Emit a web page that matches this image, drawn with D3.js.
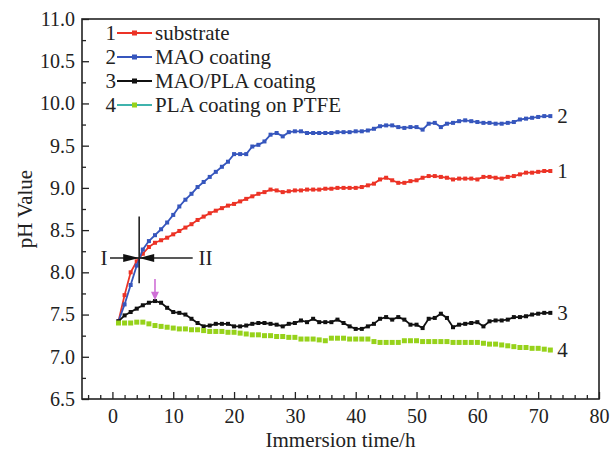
<!DOCTYPE html>
<html>
<head>
<meta charset="utf-8">
<script src="https://cdn.jsdelivr.net/npm/d3@7"></script>
<style>
  body { margin: 0; background: #fff; }
  svg { display: block; }
  text { font-family: "Liberation Serif", "Times New Roman", serif; fill: #222; }
</style>
</head>
<body>
<div id="chart"></div>
<script>
// immersion time (h)
const hours = [
  1, 2, 3, 4, 5, 6, 7, 8, 9, 10, 11, 12, 13, 14, 15, 16, 17, 18, 19, 20,
  21, 22, 23, 24, 25, 26, 27, 28, 29, 30, 31, 32, 33, 34, 35, 36, 37, 38, 39, 40,
  41, 42, 43, 44, 45, 46, 47, 48, 49, 50, 51, 52, 53, 54, 55, 56, 57, 58, 59, 60,
  61, 62, 63, 64, 65, 66, 67, 68, 69, 70, 71, 72
];

// pH values
const substrate = [
  7.42, 7.73, 8.00, 8.13, 8.22, 8.30, 8.35, 8.38, 8.41, 8.45,
  8.49, 8.53, 8.57, 8.62, 8.66, 8.70, 8.73, 8.76, 8.79, 8.81,
  8.84, 8.87, 8.90, 8.93, 8.95, 8.98, 8.97, 8.95, 8.96, 8.97,
  8.97, 8.98, 8.98, 8.98, 8.99, 8.99, 9.00, 9.00, 9.00, 9.00,
  9.01, 9.03, 9.05, 9.10, 9.12, 9.09, 9.06, 9.06, 9.08, 9.09,
  9.12, 9.14, 9.14, 9.13, 9.12, 9.10, 9.11, 9.11, 9.11, 9.10,
  9.13, 9.13, 9.12, 9.11, 9.13, 9.14, 9.16, 9.18, 9.18, 9.19,
  9.20, 9.20
];
const maoCoating = [
  7.42, 7.62, 7.85, 8.08, 8.27, 8.37, 8.44, 8.51, 8.59, 8.68,
  8.78, 8.86, 8.93, 9.01, 9.07, 9.13, 9.19, 9.25, 9.31, 9.40,
  9.40, 9.40, 9.49, 9.51, 9.55, 9.63, 9.65, 9.61, 9.66, 9.67,
  9.67, 9.65, 9.65, 9.65, 9.65, 9.65, 9.66, 9.66, 9.66, 9.67,
  9.67, 9.68, 9.70, 9.73, 9.74, 9.74, 9.72, 9.71, 9.72, 9.72,
  9.69, 9.76, 9.77, 9.72, 9.76, 9.77, 9.79, 9.80, 9.79, 9.78,
  9.77, 9.77, 9.76, 9.76, 9.77, 9.78, 9.81, 9.82, 9.83, 9.84,
  9.85, 9.85
];
const maoPlaCoating = [
  7.42, 7.49, 7.53, 7.57, 7.61, 7.64, 7.66, 7.64, 7.58, 7.53,
  7.52, 7.50, 7.45, 7.40, 7.36, 7.37, 7.39, 7.39, 7.39, 7.36,
  7.36, 7.37, 7.39, 7.40, 7.40, 7.39, 7.38, 7.36, 7.39, 7.40,
  7.43, 7.41, 7.45, 7.41, 7.41, 7.41, 7.44, 7.40, 7.36, 7.33,
  7.33, 7.36, 7.39, 7.45, 7.47, 7.44, 7.47, 7.44, 7.38, 7.38,
  7.34, 7.45, 7.46, 7.51, 7.46, 7.35, 7.38, 7.39, 7.40, 7.41,
  7.36, 7.42, 7.43, 7.43, 7.44, 7.47, 7.47, 7.48, 7.50, 7.51,
  7.52, 7.52
];
const plaOnPtfe = [
  7.40, 7.40, 7.40, 7.41, 7.41, 7.39, 7.37, 7.36, 7.35, 7.34,
  7.33, 7.33, 7.32, 7.32, 7.31, 7.30, 7.30, 7.30, 7.29, 7.29,
  7.28, 7.27, 7.26, 7.26, 7.25, 7.25, 7.24, 7.24, 7.23, 7.23,
  7.21, 7.21, 7.21, 7.20, 7.19, 7.22, 7.22, 7.22, 7.21, 7.21,
  7.21, 7.21, 7.18, 7.17, 7.17, 7.17, 7.17, 7.19, 7.19, 7.19,
  7.18, 7.18, 7.18, 7.18, 7.18, 7.17, 7.17, 7.17, 7.17, 7.17,
  7.16, 7.15, 7.15, 7.14, 7.13, 7.12, 7.11, 7.11, 7.10, 7.10,
  7.09, 7.08
];

const seriesLabels = ['1', '2', '3', '4'];
const seriesNames = ['substrate', 'MAO coating', 'MAO/PLA coating', 'PLA coating on PTFE'];
const xTickLabels = [0, 10, 20, 30, 40, 50, 60, 70, 80];
const yTickLabels = [6.5, 7.0, 7.5, 8.0, 8.5, 9.0, 9.5, 10.0, 10.5, 11.0];

const width = 611, height = 453;
const margin = { top: 19, right: 12, bottom: 54, left: 82 };

const series = [
  { values: substrate, color: '#ec3326', line: '#ec3326', size: 4, showLine: true },
  { values: maoCoating, color: '#3656bd', line: '#3656bd', size: 4, showLine: true },
  { values: maoPlaCoating, color: '#111', line: '#111', size: 4, showLine: true },
  { values: plaOnPtfe, color: '#96d21a', line: '#3fb3ad', size: 5, showLine: false }
];

const svg = d3.select('#chart').append('svg')
  .attr('width', width)
  .attr('height', height);

const x = d3.scaleLinear().domain([-5, 80]).range([margin.left, width - margin.right]);
const y = d3.scaleLinear().domain([6.5, 11]).range([height - margin.bottom, margin.top]);

// axes: ticks pointing inward, minor ticks unlabeled
const xMinor = d3.range(-4, 80, 2).filter(v => v % 10 !== 0);
const yMinor = d3.range(6.75, 11, 0.5);

svg.append('g')
  .attr('transform', `translate(0,${y(6.5)})`)
  .call(d3.axisBottom(x).tickValues(xMinor).tickSize(-4).tickFormat(''))
  .call(g => g.select('.domain').remove());
svg.append('g')
  .attr('class', 'x-axis')
  .attr('transform', `translate(0,${y(6.5)})`)
  .call(d3.axisBottom(x).tickValues(xTickLabels).tickSize(-7).tickPadding(10).tickFormat(d3.format('d')))
  .call(g => g.select('.domain').remove());

svg.append('g')
  .attr('transform', `translate(${x(-5)},0)`)
  .call(d3.axisLeft(y).tickValues(yMinor).tickSize(-4).tickFormat(''))
  .call(g => g.select('.domain').remove());
svg.append('g')
  .attr('class', 'y-axis')
  .attr('transform', `translate(${x(-5)},0)`)
  .call(d3.axisLeft(y).tickValues(yTickLabels).tickSize(-7).tickPadding(7).tickFormat(d3.format('.1f')))
  .call(g => g.select('.domain').remove());

svg.selectAll('.tick line').attr('stroke', '#222').attr('stroke-width', 1.3);
svg.selectAll('.x-axis text, .y-axis text')
  .style('font-family', '"Liberation Serif", serif')
  .style('font-size', '20px')
  .attr('fill', '#222');

// frame
svg.append('rect')
  .attr('x', x(-5)).attr('y', y(11))
  .attr('width', x(80) - x(-5)).attr('height', y(6.5) - y(11))
  .attr('fill', 'none').attr('stroke', '#222').attr('stroke-width', 1.6);

// series
const line = d3.line().x((d, i) => x(hours[i])).y(d => y(d));
series.forEach(s => {
  if (s.showLine) {
    svg.append('path')
      .datum(s.values)
      .attr('fill', 'none')
      .attr('stroke', s.line)
      .attr('stroke-width', 1.8)
      .attr('d', line);
  }
  svg.append('g').selectAll('rect')
    .data(s.values)
    .enter().append('rect')
    .attr('x', (d, i) => x(hours[i]) - s.size / 2)
    .attr('y', d => y(d) - s.size / 2)
    .attr('width', s.size)
    .attr('height', s.size)
    .attr('fill', s.color);
  // curve number at the end
  svg.append('text')
    .attr('x', x(hours[hours.length - 1]) + 7)
    .attr('y', y(s.values[s.values.length - 1]))
    .attr('dy', '0.35em')
    .style('font-size', '21px')
    .text(seriesLabels[series.indexOf(s)]);
});

// legend
const legend = svg.append('g');
series.forEach((s, i) => {
  const ly = 33 + i * 24;
  legend.append('text')
    .attr('x', 116).attr('y', ly).attr('dy', '0.35em')
    .attr('text-anchor', 'end')
    .style('font-size', '21px')
    .text(seriesLabels[i]);
  legend.append('line')
    .attr('x1', 117).attr('x2', 152).attr('y1', ly).attr('y2', ly)
    .attr('stroke', s.line).attr('stroke-width', 1.8);
  legend.append('rect')
    .attr('x', 134.5 - 2.5).attr('y', ly - 2.5)
    .attr('width', 5).attr('height', 5)
    .attr('fill', s.color);
  legend.append('text')
    .attr('x', 155).attr('y', ly).attr('dy', '0.35em')
    .style('font-size', '21px')
    .text(seriesNames[i]);
});

// crosshair annotation with arrows (I / II)
const cx = x(4.4), cy = y(8.17);
const ann = svg.append('g').attr('stroke', '#222').attr('stroke-width', 1.6);
ann.append('line').attr('x1', cx).attr('x2', cx).attr('y1', y(8.66)).attr('y2', y(7.87));
ann.append('line').attr('x1', x(-0.4)).attr('x2', x(13.2)).attr('y1', cy).attr('y2', cy);
svg.append('path')
  .attr('d', `M${cx - 16},${cy - 4}L${cx},${cy}L${cx - 16},${cy + 4}Z`)
  .attr('fill', '#111');
svg.append('path')
  .attr('d', `M${cx + 15},${cy - 4}L${cx},${cy}L${cx + 15},${cy + 4}Z`)
  .attr('fill', '#111');
svg.append('text')
  .attr('x', x(-1.4)).attr('y', cy).attr('dy', '0.35em')
  .attr('text-anchor', 'middle')
  .style('font-size', '21px')
  .text('I');
svg.append('text')
  .attr('x', x(15.3)).attr('y', cy).attr('dy', '0.35em')
  .attr('text-anchor', 'middle')
  .style('font-size', '21px')
  .text('II');

// pink arrow marking the MAO/PLA peak
const ax = x(7);
svg.append('line')
  .attr('x1', ax).attr('x2', ax).attr('y1', y(7.92)).attr('y2', y(7.75))
  .attr('stroke', '#cf6fd6').attr('stroke-width', 1.6);
svg.append('path')
  .attr('d', `M${ax - 4},${y(7.77)}L${ax},${y(7.67)}L${ax + 4},${y(7.77)}Z`)
  .attr('fill', '#cf6fd6');

// axis titles
svg.append('text')
  .attr('x', (x(-5) + x(80)) / 2).attr('y', 447)
  .attr('text-anchor', 'middle')
  .style('font-size', '21px')
  .text('Immersion time/h');
svg.append('text')
  .attr('transform', `translate(25,${(y(6.5) + y(11)) / 2}) rotate(-90)`)
  .attr('text-anchor', 'middle')
  .attr('dy', '0.35em')
  .style('font-size', '21px')
  .text('pH Value');
</script>
</body>
</html>
